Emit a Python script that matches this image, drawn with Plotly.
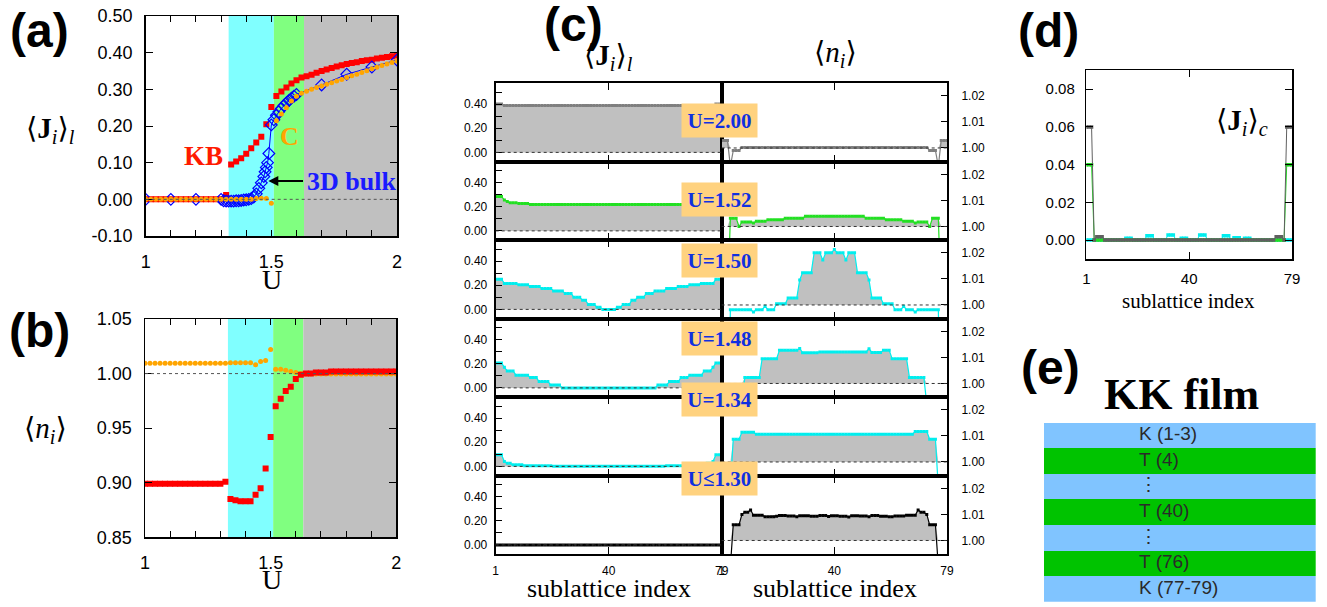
import plotly.graph_objects as go
import numpy as np

W, H = 1327, 607

# ---------------- data: panels (a) and (b) ----------------
U_grid = [1.00, 1.02, 1.04, 1.06, 1.08, 1.10, 1.12, 1.14, 1.16, 1.18, 1.20, 1.22, 1.24,
          1.26, 1.28, 1.30, 1.32, 1.34, 1.36, 1.38, 1.40, 1.42, 1.44, 1.46, 1.48, 1.50,
          1.52, 1.54, 1.56, 1.58, 1.60, 1.62, 1.64, 1.66, 1.68, 1.70, 1.72, 1.74, 1.76,
          1.78, 1.80, 1.82, 1.84, 1.86, 1.88, 1.90, 1.92, 1.94, 1.96, 1.98, 2.00]
J_KB = [0.0, 0.0, 0.0, 0.0, 0.0, 0.0, 0.0, 0.0, 0.0, 0.0, 0.0, 0.0, 0.0, 0.0, 0.0, 0.0,
        0.012, 0.095, 0.103, 0.112, 0.124, 0.139, 0.155, 0.171, 0.205, 0.252,
        0.282, 0.294, 0.305, 0.316, 0.325, 0.332, 0.336, 0.340, 0.345, 0.350, 0.354,
        0.358, 0.362, 0.366, 0.369, 0.372, 0.374, 0.377, 0.379, 0.381, 0.384, 0.386,
        0.388, 0.390, 0.392]
J_C = [0.0, 0.0, 0.0, 0.0, 0.0, 0.0, 0.0, 0.0, 0.0, 0.0, 0.0, 0.0, 0.0, 0.0, 0.0, 0.0,
       0.0, 0.0, 0.0, 0.0, 0.0, 0.0, 0.002, 0.003, 0.002, -0.011,
       0.214, 0.233, 0.250, 0.268, 0.281, 0.289, 0.295, 0.300, 0.305, 0.309, 0.314,
       0.318, 0.323, 0.327, 0.332, 0.337, 0.341, 0.346, 0.351, 0.356, 0.360, 0.365,
       0.369, 0.373, 0.377]
n_KB = [0.899, 0.899, 0.899, 0.899, 0.899, 0.899, 0.899, 0.899, 0.899, 0.899, 0.899,
        0.899, 0.899, 0.899, 0.899, 0.899, 0.901, 0.885, 0.884, 0.883, 0.883, 0.883,
        0.889, 0.895, 0.913, 0.942, 0.970, 0.977, 0.984, 0.988, 0.995, 0.999, 1.000,
        1.000, 1.001, 1.001, 1.001, 1.002, 1.002, 1.002, 1.002, 1.002, 1.002, 1.002,
        1.002, 1.002, 1.002, 1.002, 1.002, 1.002, 1.002]
n_C = [1.0095, 1.0095, 1.0095, 1.0095, 1.0095, 1.0095, 1.0095, 1.0095, 1.0095, 1.0095,
       1.0095, 1.0095, 1.0095, 1.0095, 1.0095, 1.0095, 1.0095, 1.010, 1.010, 1.010,
       1.010, 1.010, 1.008, 1.011, 1.012, 1.022, 1.004, 1.004, 1.003, 1.002, 1.001,
       1.000, 0.9995, 0.9995, 0.9995, 0.9995, 0.9995, 0.9995, 0.9995, 0.9995, 0.9995,
       0.9995, 0.9995, 0.9995, 0.9995, 0.9995, 0.9995, 0.9995, 0.9995, 0.9995, 0.9995]
U_bulk = [1.00, 1.10, 1.20, 1.30, 1.31, 1.32, 1.33, 1.34, 1.35, 1.36, 1.37, 1.38, 1.39,
          1.40, 1.41, 1.42, 1.43, 1.44, 1.45, 1.46, 1.47, 1.475, 1.48, 1.485, 1.49, 1.50,
          1.51, 1.52, 1.53, 1.54, 1.55, 1.56, 1.57, 1.58, 1.59, 1.60, 1.70, 1.80, 1.90, 2.00]
J_bulk = [0.000, 0.000, 0.000, 0.000, -0.004, -0.005, -0.005, -0.005, -0.005, -0.004,
          -0.004, -0.003, -0.002, -0.001, 0.000, 0.002, 0.006, 0.015, 0.030, 0.045,
          0.062, 0.075, 0.087, 0.100, 0.125, 0.203, 0.217, 0.229, 0.239, 0.248, 0.256,
          0.263, 0.270, 0.276, 0.281, 0.286, 0.312, 0.341, 0.361, 0.380]
phase_bounds = [1.33, 1.51, 1.63, 2.00]
phase_colors = ["#80ffff", "#80ff80", "#c0c0c0"]

# ---------------- data: panel (c) ----------------
site = list(range(1, 80))
c_labels = ["U=2.00", "U=1.52", "U=1.50", "U=1.48", "U=1.34", "U\u22641.30"]
c_colors = ["#7f7f7f", "#22e022", "#00eeee", "#00eeee", "#00eeee", "#000000"]

J_U200 = [0.400]*3 + [0.388]*73 + [0.400]*3
J_U152 = ([0.285]*3 + [0.255] + [0.243] + [0.232]*3 + [0.226]*4 + [0.219]*55 +
          [0.226]*4 + [0.232]*3 + [0.243] + [0.255] + [0.285]*3)
J_U150 = ([0.250]*3 + [0.215]*5 + [0.203]*4 + [0.190]*4 + [0.172]*4 + [0.152]*4 +
          [0.132]*3 + [0.100]*3 + [0.075]*2 + [0.040]*3 + [0.018]*2 + [0.000]*5 +
          [0.018]*2 + [0.040]*3 + [0.075]*2 + [0.100]*3 + [0.132]*3 + [0.152]*4 +
          [0.172]*4 + [0.190]*4 + [0.203]*4 + [0.215]*5 + [0.250]*3)
J_U148 = ([0.207]*3 + [0.170] + [0.140]*3 + [0.105]*5 + [0.085]*3 + [0.052]*4 +
          [0.024]*4 + [0.000]*33 + [0.024]*4 + [0.052]*4 + [0.085]*3 + [0.105]*5 +
          [0.140]*3 + [0.170] + [0.207]*3)
J_U134 = ([0.097]*3 + [0.040] + [0.025]*2 + [0.014]*4 + [0.006]*10 + [0.002]*39 +
          [0.006]*10 + [0.014]*4 + [0.025]*2 + [0.040] + [0.097]*3)
J_U130 = [0.000]*79

n_U200 = [1.0029]*3 + [0.9930] + [0.9990]*3 + [1.0002]*65 + [0.9990]*3 + [0.9930] + [1.0029]*3
n_U152 = ([0.9700]*3 + [1.0032]*3 + [1.0000] + [1.0017]*4 + [1.0013] + [1.0020]*4 +
          [1.0026]*6 + [1.0032]*7 + [1.0039]*21 + [1.0032]*7 + [1.0026]*6 + [1.0020]*4 +
          [1.0013] + [1.0017]*4 + [1.0000] + [1.0032]*3 + [0.9700]*3)
n_U150 = ([0.9420]*3 + [0.9982]*8 + [0.9973] + [0.9982]*3 + [0.9995] + [0.9982]*3 +
          [1.0005]*4 + [1.0027]*4 + [1.0096] + [1.0124]*4 + [1.0200]*3 + [1.0172] +
          [1.0200]*3 + [1.0213] + [1.0200]*3 + [1.0172] + [1.0200]*3 + [1.0124]*4 +
          [1.0096] + [1.0027]*4 + [1.0005]*4 + [0.9982]*3 + [0.9995] + [0.9982]*3 +
          [0.9973] + [0.9982]*8 + [0.9420]*3)
n_U148 = ([0.9130]*3 + [0.9920]*5 + [1.0023]*6 + [1.0095]*6 + [1.0127]*7 + [1.0134] +
          [1.0118]*6 + [1.0121]*17 + [1.0133] + [1.0119]*4 + [1.0127]*3 + [1.0095]*6 +
          [1.0023]*6 + [0.9920]*5 + [0.9130]*3)
n_U134 = ([0.8850]*3 + [0.9900] + [1.0087]*3 + [1.0114]*5 + [1.0106]*55 + [1.0117]*5 +
          [1.0087]*3 + [0.9900] + [0.8850]*3)
n_U130 = ([0.8990]*3 + [0.9900] + [1.0060]*3 + [1.0100] + [1.0108]*2 + [1.0117] +
          [1.0097]*4 + [1.0091]*4 + [1.0093] + [1.0096]*3 + [1.0094]*3 + [1.0091] +
          [1.0095]*4 + [1.0093]*3 + [1.0096]*3 + [1.0092] + [1.0095]*3 + [1.0093]*3 +
          [1.0090] + [1.0095]*3 + [1.0094]*3 + [1.0091] + [1.0096]*3 + [1.0093]*3 +
          [1.0091]*2 + [1.0094]*4 + [1.0097]*4 + [1.0117] + [1.0108]*2 + [1.0100] +
          [1.0060]*3 + [0.9900] + [0.8990]*3)

J_rows = [J_U200, J_U152, J_U150, J_U148, J_U134, J_U130]
n_rows = [n_U200, n_U152, n_U150, n_U148, n_U134, n_U130]

# ---------------- data: panel (d) ----------------
Jc_U200 = [0.060]*3 + [0.000] + [0.0018]*3 + [0.000]*65 + [0.0018]*3 + [0.000] + [0.060]*3
Jc_U152 = [0.040]*3 + [0.000]*73 + [0.040]*3
Jc_U150 = ([0.000]*15 + [0.0009]*3 + [0.000]*5 + [0.0023]*3 + [0.000]*5 + [0.0027]*3 +
           [0.000]*2 + [0.0010]*3 + [0.000]*4 + [0.0027]*3 + [0.000]*6 + [0.0023]*3 +
           [0.000] + [0.0012]*3 + [0.000] + [0.0009]*3 + [0.000]*16)

# ---------------- data: panel (e) ----------------
layers = ["K (1-3)", "T (4)", "\u22ee", "T (40)", "\u22ee", "T (76)", "K (77-79)"]
layer_kind = ["K", "T", "K", "T", "K", "T", "K"]
kind_color = {"K": "#80c4ff", "T": "#00c300"}

# ---------------- helpers ----------------
SANS = "Liberation Sans, Arial, Helvetica, sans-serif"
SERIF = "Liberation Serif, Times New Roman, DejaVu Serif, serif"


def xd(x0, x1):
    return [x0 / W, x1 / W]


def yd(top, bot):
    return [1 - bot / H, 1 - top / H]


def px(x):
    return x / W


def py(y):
    return 1 - y / H


fig = go.Figure()
layout = dict(width=W, height=H,
              margin=dict(l=0, r=0, t=0, b=0, pad=0, autoexpand=False),
              paper_bgcolor="white", plot_bgcolor="white", showlegend=False,
              hovermode=False)
shapes = []
annotations = []


def axis(**kw):
    base = dict(showline=True, linecolor="black", linewidth=1.5, showgrid=False,
                zeroline=False, ticks="inside", tickcolor="black", tickwidth=1,
                ticklen=6, mirror="ticks", automargin=False,
                tickfont=dict(family=SANS, size=18, color="black"))
    base.update(kw)
    return base


minor_in = dict(ticks="inside", ticklen=6, tickcolor="black", tickwidth=1, showgrid=False)

# ---- panel (a) and (b)
ja_ticks = [-0.1, 0.0, 0.1, 0.2, 0.3, 0.4, 0.5]
nb_ticks = [0.85, 0.90, 0.95, 1.00, 1.05]
u_axis = dict(range=[1, 2], tickmode="linear", tick0=1, dtick=0.5,
              minor=dict(dtick=0.1, **minor_in), ticklabelstandoff=9)

layout["xaxis"] = axis(domain=xd(145.7, 397), anchor="y", **u_axis)
layout["yaxis"] = axis(domain=yd(16, 236), range=[-0.1, 0.5], tickvals=ja_ticks,
                       ticktext=["%.2f" % v for v in ja_ticks], anchor="x",
                       ticklen=7, ticklabelstandoff=8)
layout["xaxis2"] = axis(domain=xd(145, 396.3), anchor="y2", **u_axis)
layout["yaxis2"] = axis(domain=yd(319, 537.3), range=[0.85, 1.05], tickvals=nb_ticks,
                        ticktext=["%.2f" % v for v in nb_ticks], anchor="x2",
                        ticklen=7, ticklabelstandoff=8)

for xa, ya in (("x", "y"), ("x2", "y2")):
    for k in range(3):
        shapes.append(dict(type="rect", xref=xa, yref=ya + " domain",
                           x0=phase_bounds[k], x1=phase_bounds[k + 1], y0=0, y1=1,
                           fillcolor=phase_colors[k], line=dict(width=0), layer="below"))

shapes.append(dict(type="line", xref="x domain", yref="y", x0=0, x1=1, y0=0, y1=0,
                   line=dict(color="#555555", width=1, dash="dot")))
shapes.append(dict(type="line", xref="x2 domain", yref="y2", x0=0, x1=1, y0=1.0, y1=1.0,
                   line=dict(color="#555555", width=1, dash="dot")))

fig.add_trace(go.Scatter(x=U_grid, y=J_KB, mode="markers", xaxis="x", yaxis="y",
                         marker=dict(symbol="square", size=6, color="#ff0000")))
fig.add_trace(go.Scatter(x=U_bulk, y=J_bulk, mode="lines+markers", xaxis="x", yaxis="y",
                         line=dict(color="#0000ff", width=1),
                         marker=dict(symbol="diamond-open", size=9, color="#0000ff",
                                     line=dict(width=1.2, color="#0000ff"))))
fig.add_trace(go.Scatter(x=U_grid, y=J_C, mode="markers", xaxis="x", yaxis="y",
                         marker=dict(symbol="circle", size=5, color="#ffa500")))

fig.add_trace(go.Scatter(x=U_grid, y=n_C, mode="markers", xaxis="x2", yaxis="y2",
                         marker=dict(symbol="circle", size=5, color="#ffa500")))
fig.add_trace(go.Scatter(x=U_grid, y=n_KB, mode="markers", xaxis="x2", yaxis="y2",
                         marker=dict(symbol="square", size=6, color="#ff0000")))

annotations += [
    dict(xref="x", yref="y", x=1.23, y=0.118, text="<b>KB</b>", showarrow=False,
         font=dict(family=SERIF, size=27, color="#ff1a00")),
    dict(xref="x", yref="y", x=1.574, y=0.172, text="<b>C</b>", showarrow=False,
         font=dict(family=SERIF, size=26, color="#ffa500")),
    dict(xref="x", yref="y", x=1.488, y=0.05, ax=1.632, ay=0.05, axref="x", ayref="y",
         text="", showarrow=True, arrowhead=2, arrowsize=1, arrowwidth=2,
         arrowcolor="black"),
    dict(xref="x", yref="y", x=1.634, y=0.05, text="<b>3D bulk</b>", showarrow=False,
         xanchor="left", font=dict(family=SERIF, size=26, color="#1a1aff")),
]

# ---- panel (c)
row_top0, row_h = 83.3, 78.5
n_ticks = [1.00, 1.01, 1.02]
for r in range(6):
    top = row_top0 + row_h * r
    bot = top + row_h
    kl, kr = 3 + r, 9 + r
    last = (r == 5)
    xcommon = dict(range=[1, 79], tickvals=[1, 40, 79],
                   ticktext=["1", "40", "79"],
                   showticklabels=last, ticklen=7, linewidth=2,
                   tickfont=dict(family=SANS, size=12, color="black"),
                   ticklabelstandoff=4)
    layout["xaxis%d" % kl] = axis(domain=xd(495.7, 721.7), anchor="y%d" % kl, **xcommon)
    layout["yaxis%d" % kl] = axis(domain=yd(top, bot), anchor="x%d" % kl,
                                  range=[-0.078, 0.572], tickmode="linear", tick0=0,
                                  dtick=0.2, tickformat=".2f",
                                  minor=dict(dtick=0.1, **minor_in),
                                  mirror=True, ticklen=6, linewidth=2,
                                  tickfont=dict(family=SANS, size=12, color="black"),
                                  ticklabelstandoff=4)
    layout["xaxis%d" % kr] = axis(domain=xd(721.7, 947), anchor="y%d" % kr, **xcommon)
    layout["yaxis%d" % kr] = axis(domain=yd(top, bot), anchor="x%d" % kr, side="right",
                                  range=[0.9947, 1.0248], tickvals=n_ticks,
                                  ticktext=["%.2f" % v for v in n_ticks],
                                  mirror=True, ticklen=6, linewidth=2,
                                  tickfont=dict(family=SANS, size=12, color="black"),
                                  ticklabelstandoff=10)
    col = c_colors[r]
    # left: <J_i>_l
    fig.add_trace(go.Scatter(x=site, y=J_rows[r], mode="lines+markers", fill="tozeroy",
                             fillcolor="#c0c0c0", xaxis="x%d" % kl, yaxis="y%d" % kl,
                             line=dict(color=col, width=1.2),
                             marker=dict(symbol="square", size=3, color=col)))
    # right: <n_i>, filled above 1
    nvals = np.array(n_rows[r])
    fig.add_trace(go.Scatter(x=site, y=np.ones_like(nvals), mode="lines",
                             xaxis="x%d" % kr, yaxis="y%d" % kr,
                             line=dict(width=0, color="rgba(0,0,0,0)")))
    fig.add_trace(go.Scatter(x=site, y=np.maximum(nvals, 1.0), mode="lines",
                             fill="tonexty", fillcolor="#c0c0c0",
                             xaxis="x%d" % kr, yaxis="y%d" % kr,
                             line=dict(width=0, color="rgba(0,0,0,0)")))
    fig.add_trace(go.Scatter(x=site, y=nvals, mode="lines+markers",
                             xaxis="x%d" % kr, yaxis="y%d" % kr,
                             line=dict(color=col, width=1.2),
                             marker=dict(symbol="square", size=3, color=col)))
    shapes.append(dict(type="line", xref="x%d domain" % kl, yref="y%d" % kl,
                       x0=0, x1=1, y0=0, y1=0,
                       line=dict(color="#333333", width=1, dash="dot")))
    shapes.append(dict(type="line", xref="x%d domain" % kr, yref="y%d" % kr,
                       x0=0, x1=1, y0=1.0, y1=1.0,
                       line=dict(color="#333333", width=1, dash="dot")))
    annotations.append(dict(xref="paper", yref="paper", x=px(719.5), y=py(top + 20),
                            text="<b>%s</b>" % c_labels[r], showarrow=False,
                            bgcolor="#ffd27f", width=75, height=33, align="center",
                            valign="middle", borderpad=0,
                            font=dict(family=SERIF, size=21, color="#1030e0")))

# ---- panel (d)
jd_ticks = [0.0, 0.02, 0.04, 0.06, 0.08]
layout["xaxis15"] = axis(domain=xd(1086.3, 1292), anchor="y15", range=[1, 79],
                         tickvals=[1, 40, 79], ticktext=["1", "40", "79"], ticklen=7,
                         tickfont=dict(family=SANS, size=15, color="black"),
                         ticklabelstandoff=5)
layout["yaxis15"] = axis(domain=yd(70, 259.3), anchor="x15", range=[-0.0102, 0.0902],
                         tickvals=jd_ticks, ticktext=["%.2f" % v for v in jd_ticks],
                         ticklen=7, tickfont=dict(family=SANS, size=15, color="black"),
                         ticklabelstandoff=7)
for vals, col in ((Jc_U150, "#00eeee"), (Jc_U152, "#22dd22"), (Jc_U200, "#606060")):
    fig.add_trace(go.Scatter(x=site, y=vals, mode="lines+markers", xaxis="x15",
                             yaxis="y15", line=dict(color=col, width=1),
                             marker=dict(symbol="square", size=3.5, color=col)))

# ---- panel (e)
layout["xaxis16"] = dict(domain=xd(1044, 1315.7), anchor="y16", range=[0, 1],
                         visible=False, fixedrange=True)
layout["yaxis16"] = dict(domain=yd(422.7, 601.7), anchor="x16", range=[6.5, -0.5],
                         visible=False, fixedrange=True)
layer_pos = list(range(len(layers)))
fig.add_trace(go.Bar(x=[1] * len(layers), y=layer_pos, orientation="h", width=1,
                     base=0, xaxis="x16", yaxis="y16",
                     marker=dict(color=[kind_color[k] for k in layer_kind],
                                 line=dict(width=0))))
fig.add_trace(go.Scatter(x=[0.35] * len(layers), y=layer_pos, mode="text", text=layers,
                         textposition="middle right", xaxis="x16", yaxis="y16",
                         textfont=dict(family=SANS, size=19, color="#2a2a2a")))

# ---- texts: labels
JL = "\u27e8<b>J</b><sub><i>i</i></sub>\u27e9<sub><i>l</i></sub>"
JC = "\u27e8<b>J</b><sub><i>i</i></sub>\u27e9<sub><i>c</i></sub>"
NI = "\u27e8<i>n<sub>i</sub></i>\u27e9"


def label(x, y, text, size, family=SERIF, color="black"):
    annotations.append(dict(xref="paper", yref="paper", x=px(x), y=py(y), text=text,
                            showarrow=False, xanchor="center", yanchor="middle",
                            font=dict(family=family, size=size, color=color)))


label(50, 130, JL, 29)
label(45, 430, NI, 29)
label(272, 279, "U", 28)
label(272, 579, "U", 28)
label(608, 57, JL, 29)
label(835, 54, NI, 29)
label(609, 588, "sublattice index", 26)
label(835, 588, "sublattice index", 26)
label(1242, 122, JC, 29)
label(1188, 301, "sublattice index", 21)
label(1181, 394, "<b>KK film</b>", 44)
for t, x, y in (("(a)", 39, 30), ("(b)", 39, 330), ("(c)", 573, 25),
                ("(d)", 1048, 30), ("(e)", 1050, 367)):
    label(x, y, "<b>%s</b>" % t, 48, family=SANS)

layout["shapes"] = shapes
layout["annotations"] = annotations
layout["bargap"] = 0
fig.update_layout(**layout)

fig.write_html("out.html",
               config={"displayModeBar": False, "staticPlot": True},
               post_script="document.body.style.margin='0px';"
                           "document.body.style.padding='0px';"
                           "document.body.style.overflow='hidden';")
